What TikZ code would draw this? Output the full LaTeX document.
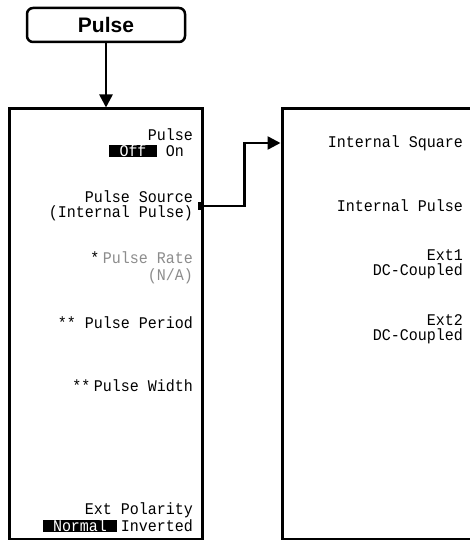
\documentclass[tikz,border=0pt]{standalone}
\usepackage{fontspec}
\usepackage{xcolor}
\usepackage{tikz}
\usetikzlibrary{arrows.meta, positioning, calc}
\newfontfamily\scrfont[FakeStretch=0.92]{Liberation Mono}
\newfontfamily\keyfont{Liberation Sans}

\begin{document}
\begin{tikzpicture}[x=1pt, y=-1pt,
    key/.style={draw, rounded corners=6pt, line width=2.5pt, minimum width=158pt,
                minimum height=34pt, font=\keyfont\bfseries\fontsize{21}{21}\selectfont},
    panel/.style={draw, line width=3pt, inner sep=0pt},
    lbl/.style={font=\scrfont\fontsize{16.3}{15}\selectfont, align=right, inner sep=0pt, anchor=east},
    hl/.style={lbl, fill=black, text=white, anchor=center, minimum height=12pt},
    dim/.style={lbl, text=black!45},
    arr/.style={-{Triangle[length=13pt, width=13pt]}, line width=2.5pt}]
  \clip (0,0) rectangle (470,540);
  \node[key] (key) at (106,25) {Pulse};
  \node[panel, minimum width=193pt, minimum height=430pt] (menu) at (105.5,324) {};
  \node[panel, minimum width=210pt, minimum height=430pt] (srcmenu) at (387,324) {};
  % softkey labels, left menu
  \node[lbl] (pls)  at (193,135) {Pulse};
  \node[lbl] (on)   at (184,151) {On};
  \node[hl, minimum width=48pt] (off) at (133,151) {Off};
  \node[lbl] (psrc) at (193,206) {Pulse Source\\(Internal Pulse)};
  \node[dim] (rate) at (193,258) {Pulse Rate};
  \node[lbl, left=3pt of rate] (st1) {*};
  \node[dim] (na)   at (193,276) {(N/A)};
  \node[lbl] (per)  at (193,323) {** Pulse Period};
  \node[lbl] (wid)  at (193,386) {Pulse Width};
  \node[lbl, left=3pt of wid] (st2) {**};
  \node[lbl] (pol)  at (193,510) {Ext Polarity};
  \node[lbl] (inv)  at (193,526) {Inverted};
  \node[hl, minimum width=74pt] (nrm) at (80,526) {Normal};
  % softkey labels, source menu
  \node[lbl] (isq)  at (463,143) {Internal Square};
  \node[lbl] (ipl)  at (463,206) {Internal Pulse};
  \node[lbl] (ext1) at (463,264) {Ext1\\DC-Coupled};
  \node[lbl] (ext2) at (463,329) {Ext2\\DC-Coupled};
  % connectors
  \draw[arr] (key.south) -- (key.south |- menu.north);
  \fill ($(menu.east |- psrc)+(-1.5,-4)$) -- ++(-4,0) -- ++(0,8) -- ++(4,0) -- cycle;
  \draw[arr] (menu.east |- psrc) -- ++(41,0) |- (srcmenu.west |- isq);
\end{tikzpicture}
\end{document}
